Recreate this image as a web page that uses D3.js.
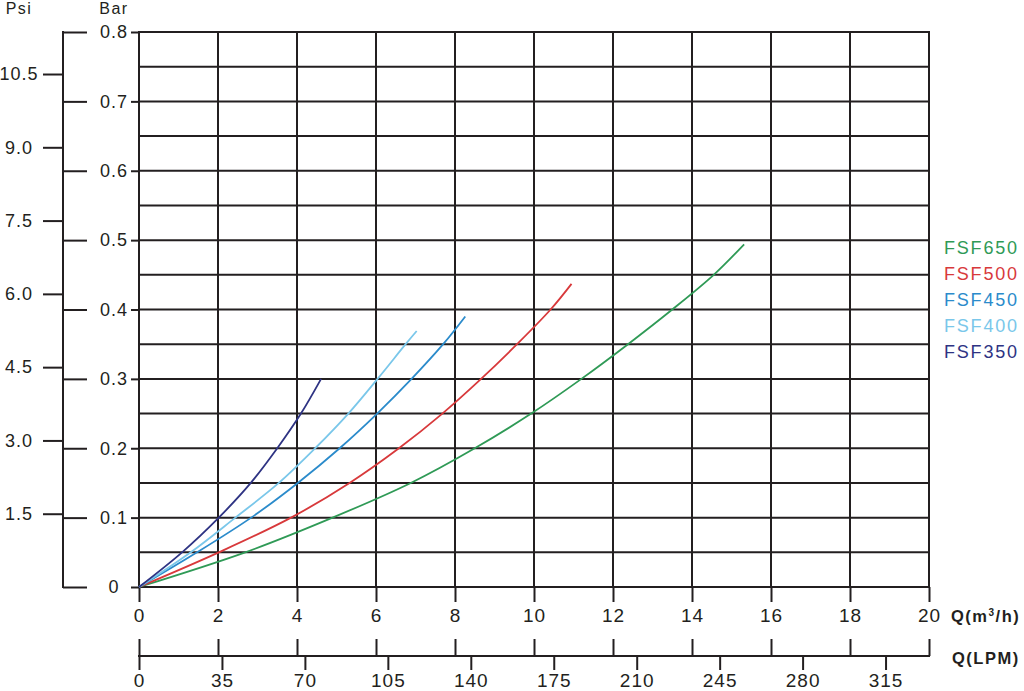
<!DOCTYPE html>
<html>
<head>
<meta charset="utf-8">
<script src="https://cdn.jsdelivr.net/npm/d3@7"></script>
<style>
    body { margin: 0; background: #fff; }
    svg { display: block; }
    text { font-family: "Liberation Sans", Arial, sans-serif; fill: #231f20; }
</style>
</head>
<body>
<svg id="svg-container" width="1024" height="691"></svg>
<script>
// axis ticks
const flowTicks = [0, 2, 4, 6, 8, 10, 12, 14, 16, 18, 20];
const lpmTicks = [0, 35, 70, 105, 140, 175, 210, 245, 280, 315];
const barTicks = [0, 0.1, 0.2, 0.3, 0.4, 0.5, 0.6, 0.7, 0.8];
const barGrid = [0, 0.05, 0.1, 0.15, 0.2, 0.25, 0.3, 0.35, 0.4, 0.45, 0.5, 0.55, 0.6, 0.65, 0.7, 0.75, 0.8];
const psiTicks = [1.5, 3.0, 4.5, 6.0, 7.5, 9.0, 10.5];

// series, flow in m3/h and pressure in bar
const models = ["FSF650", "FSF500", "FSF450", "FSF400", "FSF350"];
const modelColors = ["#2f9a56", "#d8393b", "#2b8bcb", "#7ac7ea", "#2e3383"];

const fsf650Q = [0, 2.69, 4.9, 6.88, 8.5, 9.93, 11.2, 12.38, 13.5, 14.55, 15.32];
const fsf650Bar = [0, 0.05, 0.10, 0.15, 0.20, 0.25, 0.30, 0.35, 0.40, 0.45, 0.494];

const fsf500Q = [0, 2.02, 3.85, 5.33, 6.58, 7.68, 8.66, 9.57, 10.42, 10.95];
const fsf500Bar = [0, 0.05, 0.10, 0.15, 0.20, 0.25, 0.30, 0.35, 0.40, 0.437];

const fsf450Q = [0, 1.47, 2.84, 4.02, 5.08, 6.03, 6.9, 7.7, 8.26];
const fsf450Bar = [0, 0.05, 0.10, 0.15, 0.20, 0.25, 0.30, 0.35, 0.39];

const fsf400Q = [0, 1.31, 2.44, 3.54, 4.46, 5.3, 6.04, 6.75, 7.03];
const fsf400Bar = [0, 0.05, 0.10, 0.15, 0.20, 0.25, 0.30, 0.35, 0.369];

const fsf350Q = [0, 1.09, 2.02, 2.83, 3.5, 4.1, 4.61];
const fsf350Bar = [0, 0.05, 0.10, 0.15, 0.20, 0.25, 0.30];

const seriesQ = [fsf650Q, fsf500Q, fsf450Q, fsf400Q, fsf350Q];
const seriesBar = [fsf650Bar, fsf500Bar, fsf450Bar, fsf400Bar, fsf350Bar];

const PSI_PER_BAR = 14.2;
const INK = "#231f20";

var svg = d3.select("#svg-container");

var x = d3.scaleLinear().domain([0, 20]).range([139, 929]);
var y = d3.scaleLinear().domain([0, 0.8]).range([587, 32]);
var psi = d3.scaleLinear().domain([0, 0.8 * PSI_PER_BAR]).range([587, 32]);
var lpm = d3.scaleLinear().domain([0, 20 * 1000 / 60]).range([139, 929]);

function styleAxis(g, size) {
    g.select(".domain").remove();
    g.selectAll(".tick line").attr("stroke", INK).attr("stroke-width", 2);
    g.selectAll(".tick text")
        .attr("fill", INK)
        .style("font-size", (size || 18) + "px")
        .style("letter-spacing", "1px");
}

// grid
var grid = svg.append("g");
grid.selectAll("line.h").data(barGrid).enter().append("line")
    .attr("x1", x(0)).attr("x2", x(20))
    .attr("y1", function (d) { return y(d); })
    .attr("y2", function (d) { return y(d); })
    .attr("stroke", INK).attr("stroke-width", 2);
grid.selectAll("line.v").data(flowTicks).enter().append("line")
    .attr("x1", function (d) { return x(d); })
    .attr("x2", function (d) { return x(d); })
    .attr("y1", y(0.8) - 1).attr("y2", y(0) + 1)
    .attr("stroke", INK).attr("stroke-width", 2);

// flow axis m3/h
svg.append("g")
    .attr("transform", "translate(0," + y(0) + ")")
    .call(d3.axisBottom(x).tickValues(flowTicks).tickSize(15).tickPadding(7).tickFormat(d3.format("d")))
    .call(styleAxis, 19);

// flow axis LPM
svg.append("line")
    .attr("x1", x(0) - 1).attr("x2", x(20) + 1)
    .attr("y1", 656).attr("y2", 656)
    .attr("stroke", INK).attr("stroke-width", 2);
svg.append("g")
    .attr("transform", "translate(0,656)")
    .call(d3.axisTop(x).tickValues(flowTicks).tickSize(17).tickFormat(""))
    .call(styleAxis);
svg.append("g")
    .attr("transform", "translate(0,656)")
    .call(d3.axisBottom(lpm).tickValues(lpmTicks).tickSize(14).tickPadding(4).tickFormat(d3.format("d")))
    .call(styleAxis, 19);

// bar axis
var barAxis = svg.append("g")
    .attr("transform", "translate(" + x(0) + ",0)")
    .call(d3.axisLeft(y).tickValues(barTicks).tickSize(8).tickFormat(function (d) { return d === 0 ? "0" : d3.format(".1f")(d); }))
    .call(styleAxis);
barAxis.selectAll(".tick text").attr("text-anchor", "middle").attr("x", -25);

// psi axis
svg.append("line")
    .attr("x1", 63).attr("x2", 63)
    .attr("y1", y(0.8) - 1).attr("y2", y(0) + 1)
    .attr("stroke", INK).attr("stroke-width", 2);
svg.append("g")
    .attr("transform", "translate(63,0)")
    .call(d3.axisRight(y).tickValues(barTicks).tickSize(24).tickFormat(""))
    .call(styleAxis);
var psiAxis = svg.append("g")
    .attr("transform", "translate(63,0)")
    .call(d3.axisLeft(psi).tickValues(psiTicks).tickSize(20).tickFormat(d3.format(".1f")))
    .call(styleAxis);
psiAxis.selectAll(".tick text").attr("text-anchor", "middle").attr("x", -44);

// axis titles
svg.append("text").attr("x", 19).attr("y", 14).attr("text-anchor", "middle")
    .style("font-size", "16px").style("letter-spacing", "1.5px").text("Psi");
svg.append("text").attr("x", 114).attr("y", 14).attr("text-anchor", "middle")
    .style("font-size", "16px").style("letter-spacing", "1.5px").text("Bar");

var qTitle = svg.append("text").attr("x", 951).attr("y", 622)
    .style("font-size", "16.5px").style("font-weight", "bold").style("letter-spacing", "1.5px");
qTitle.append("tspan").text("Q(m");
qTitle.append("tspan").attr("dy", -6).style("font-size", "10px").text("3");
qTitle.append("tspan").attr("dy", 6).text("/h)");

svg.append("text").attr("x", 952).attr("y", 664)
    .style("font-size", "16.5px").style("font-weight", "bold").style("letter-spacing", "1.5px")
    .text("Q(LPM)");

// curves
var line = d3.line()
    .x(function (d) { return x(d[0]); })
    .y(function (d) { return y(d[1]); })
    .curve(d3.curveCatmullRom.alpha(0.5));

svg.append("g").selectAll("path").data(models).enter().append("path")
    .attr("d", function (d, i) { return line(d3.zip(seriesQ[i], seriesBar[i])); })
    .attr("fill", "none")
    .attr("stroke", function (d, i) { return modelColors[i]; })
    .attr("stroke-width", 1.8);

// legend
svg.append("g").selectAll("text").data(models).enter().append("text")
    .attr("x", 944)
    .attr("y", function (d, i) { return 254 + i * 26; })
    .style("font-size", "18px")
    .style("letter-spacing", "1.8px")
    .style("fill", function (d, i) { return modelColors[i]; })
    .text(function (d) { return d; });
</script>
</body>
</html>
